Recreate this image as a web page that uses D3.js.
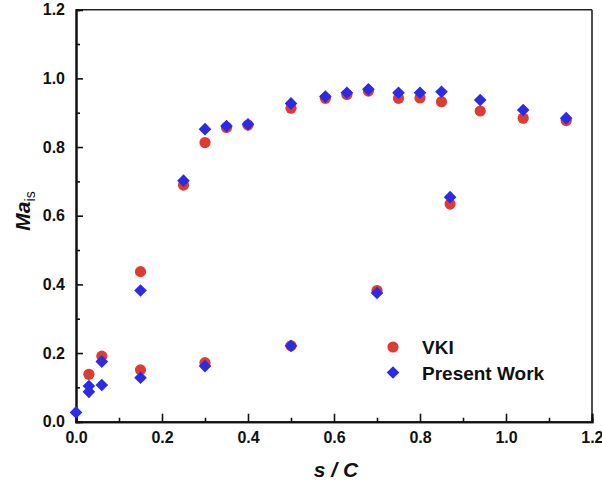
<!DOCTYPE html>
<html>
<head>
<meta charset="utf-8">
<script src="https://cdn.jsdelivr.net/npm/d3@7"></script>
<style>
  body { margin: 0; background: #fff; }
  svg text { font-family: "Liberation Sans", Arial, sans-serif; font-weight: bold; fill: #111; }
</style>
</head>
<body>
<div id="chart"></div>
<script>
// data
var sVKI  = [0.03, 0.06, 0.15, 0.15, 0.25, 0.30, 0.30, 0.35, 0.40, 0.50, 0.50, 0.58, 0.63, 0.68, 0.70, 0.75, 0.80, 0.85, 0.87, 0.94, 1.04, 1.14];
var maVKI = [0.138, 0.191, 0.437, 0.151, 0.689, 0.813, 0.172, 0.857, 0.864, 0.913, 0.221, 0.942, 0.953, 0.963, 0.382, 0.942, 0.943, 0.932, 0.634, 0.905, 0.884, 0.877];

var sPW  = [0.0, 0.03, 0.03, 0.06, 0.06, 0.15, 0.15, 0.25, 0.30, 0.30, 0.35, 0.40, 0.50, 0.50, 0.58, 0.63, 0.68, 0.70, 0.75, 0.80, 0.85, 0.87, 0.94, 1.04, 1.14];
var maPW = [0.027, 0.104, 0.087, 0.175, 0.107, 0.382, 0.128, 0.702, 0.852, 0.162, 0.861, 0.866, 0.927, 0.221, 0.947, 0.958, 0.968, 0.375, 0.958, 0.958, 0.961, 0.654, 0.937, 0.908, 0.884];

var seriesNames = ["VKI", "Present Work"];
var majorTicks = [0, 0.2, 0.4, 0.6, 0.8, 1.0, 1.2];
var minorTicks = [0.1, 0.3, 0.5, 0.7, 0.9, 1.1];

var width = 602, height = 489;
var margin = {top: 9.7, right: 10, bottom: 67.3, left: 76};
var w = width - margin.left - margin.right,
    h = height - margin.top - margin.bottom;

var svg = d3.select("#chart").append("svg")
    .attr("width", width)
    .attr("height", height);
var g = svg.append("g")
    .attr("transform", "translate(" + margin.left + "," + margin.top + ")");

var x = d3.scaleLinear().domain([0, 1.2]).range([0, w]);
var y = d3.scaleLinear().domain([0, 1.2]).range([h, 0]);

// frame top/right
g.append("line").attr("x1", 0).attr("x2", w).attr("y1", 0).attr("y2", 0)
  .attr("stroke", "#222").attr("stroke-width", 1.6);
g.append("line").attr("x1", w).attr("x2", w).attr("y1", 0).attr("y2", h)
  .attr("stroke", "#222").attr("stroke-width", 1.6);

// axes, ticks pointing inward
var xAxis = g.append("g").attr("transform", "translate(0," + h + ")")
  .call(d3.axisBottom(x).tickValues(majorTicks).tickSize(-8).tickPadding(10)
        .tickFormat(d3.format(".1f")));
g.append("g").attr("transform", "translate(0," + h + ")")
  .call(d3.axisBottom(x).tickValues(minorTicks).tickSize(-4).tickFormat(""));
var yAxis = g.append("g")
  .call(d3.axisLeft(y).tickValues(majorTicks).tickSize(-7).tickPadding(11)
        .tickFormat(d3.format(".1f")));
g.append("g")
  .call(d3.axisLeft(y).tickValues(minorTicks).tickSize(-4).tickFormat(""));

g.selectAll(".domain").attr("stroke", "#111").attr("stroke-width", 2);
g.selectAll(".tick line").attr("stroke", "#111").attr("stroke-width", 1.6);
g.selectAll(".tick text").style("font-size", "16px").attr("fill", "#111");
xAxis.selectAll(".tick text").attr("dy", "0.71em");
// last x label sits at the very edge, keep it inside the page
xAxis.selectAll(".tick text").filter(function(d) { return d === 1.2; })
  .attr("text-anchor", "end").attr("x", 11);

// axis titles
svg.append("text")
  .attr("x", margin.left + w / 2 + 2)
  .attr("y", 477)
  .attr("text-anchor", "middle")
  .style("font-size", "21px")
  .style("font-style", "italic")
  .text("s / C");

var yl = svg.append("text")
  .attr("transform", "translate(30," + 211 + ") rotate(-90)")
  .attr("text-anchor", "middle")
  .style("font-size", "21px");
yl.append("tspan").style("font-style", "italic").text("Ma");
yl.append("tspan").attr("dy", 5).style("font-size", "14px").style("font-weight", "normal").text("is");

// marks
var red = "#de3b31", blue = "#2b2be6";
var diamond = d3.symbol().type(d3.symbolSquare).size(80);

g.selectAll(".vki")
  .data(d3.zip(sVKI, maVKI))
  .enter().append("circle")
    .attr("class", "vki")
    .attr("cx", function(d) { return x(d[0]); })
    .attr("cy", function(d) { return y(d[1]); })
    .attr("r", 5.6)
    .attr("fill", red);

g.selectAll(".pw")
  .data(d3.zip(sPW, maPW))
  .enter().append("path")
    .attr("class", "pw")
    .attr("d", diamond)
    .attr("transform", function(d) { return "translate(" + x(d[0]) + "," + y(d[1]) + ") rotate(45)"; })
    .attr("fill", blue);

// legend
var leg = svg.append("g").attr("transform", "translate(393,347)");
leg.append("circle").attr("cx", 0).attr("cy", 0).attr("r", 5.6).attr("fill", red);
leg.append("path").attr("d", diamond).attr("transform", "translate(0,25.5) rotate(45)").attr("fill", blue);
leg.selectAll("text").data(seriesNames).enter().append("text")
  .attr("x", 29)
  .attr("y", function(d, i) { return i * 25.5 + 7; })
  .style("font-size", "19px")
  .text(function(d) { return d; });
</script>
</body>
</html>
